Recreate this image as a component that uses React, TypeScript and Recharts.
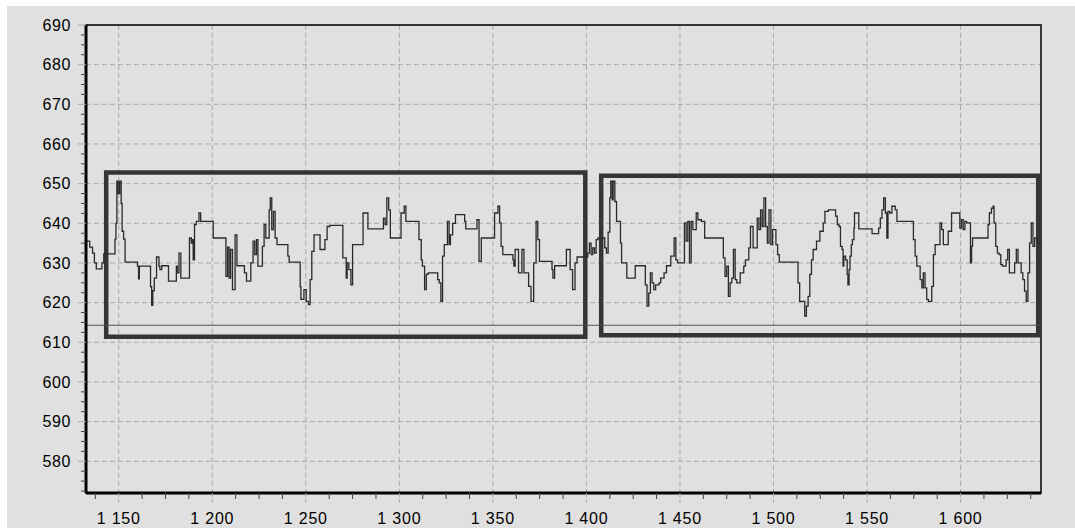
import React from 'react';
import { LineChart, Line, XAxis, YAxis, CartesianGrid, ReferenceArea, ReferenceLine } from 'recharts';

// axis ranges and ticks
const xDomain: [number, number] = [1132.5, 1643];
const yDomain: [number, number] = [572, 690];
const xMajorTicks = [1150, 1200, 1250, 1300, 1350, 1400, 1450, 1500, 1550, 1600];
const yMajorTicks = [580, 590, 600, 610, 620, 630, 640, 650, 660, 670, 680, 690];
const xMinorStep = 12.5;
const yMinorStep = 2.5;

// level line and the two marked windows
const baseline = 614.3;
const windows = [
  { x1: 1143.3, x2: 1399.4, y1: 611.4, y2: 652.8 },
  { x1: 1407.9, x2: 1641.5, y1: 611.8, y2: 652 },
];

// signal as [x, value] change points
const traceA: [number, number][] = [
  [1132.5, 635.5], [1134.5, 634], [1136, 632.5], [1137, 630], [1138, 628.5], [1141, 630],
  [1142, 632.3], [1148, 636], [1148.5, 640], [1149, 650.6], [1149.7, 647.5], [1150.5, 650.6],
  [1151.3, 645], [1151.8, 638], [1152.6, 636], [1153.4, 630.2], [1160, 629.2], [1160.6, 626],
  [1161, 629.2], [1167, 624], [1167.6, 619.3], [1168.2, 623], [1169, 626.2], [1170.2, 631.5],
  [1171.5, 629.2], [1172, 628.3], [1173, 629.3], [1176.6, 625.4], [1180.8, 629.2], [1181.3, 627.5],
  [1182.2, 632.5], [1183.2, 626.2], [1187.8, 636.3], [1188.8, 635], [1189.4, 635.9], [1189.8, 630.8],
  [1190.5, 639.7], [1191.5, 640.5], [1192.9, 642.6], [1193.8, 640.5], [1200.5, 636.3], [1207.3, 626.6],
  [1208.2, 634], [1209, 626.2], [1209.8, 633.4], [1210.8, 623.3], [1212.2, 637.1], [1213.2, 629.3],
  [1217.2, 627.5], [1218.3, 625.4], [1220.6, 630], [1221.8, 635.5], [1222.7, 632.1], [1223.6, 635.9],
  [1224.4, 629.2], [1226.8, 634.2], [1227.7, 639.7], [1228.6, 636.3], [1230.4, 643.4], [1231, 646.4],
  [1231.8, 638.4], [1232.7, 643], [1233.6, 636.3], [1234.6, 634.6], [1240.4, 631.7], [1241.1, 630.2],
  [1247, 624], [1247.4, 620.8], [1249, 623.3], [1250.2, 620.3], [1251.4, 619.5], [1252.3, 625.8],
  [1253.2, 632.9], [1254.4, 637.1], [1257.6, 633.4], [1260.2, 635.9], [1261.4, 639.2], [1262.8, 639.5],
];

const traceB: [number, number][] = [
  [1269.8, 631.3], [1271.6, 626.2], [1272.1, 630], [1273, 628.3], [1274.1, 624.5], [1275, 634.6],
  [1280.6, 642.6], [1283.2, 638.6], [1291.5, 641.3], [1292.4, 639.7], [1293.3, 646.4], [1294.3, 643.4],
  [1295.2, 636.3], [1300.9, 642.6], [1302.6, 644.3], [1303.5, 640.5], [1310.5, 635.9], [1311.7, 630.8],
  [1312.3, 629.2], [1313.5, 623.3], [1314.4, 627.1], [1315.4, 627.5], [1320.5, 625.8], [1321.3, 625],
  [1322.2, 620.3], [1323.1, 631.7], [1324, 634.6], [1325.7, 640.5], [1326.6, 634.6], [1327.3, 637.1],
  [1328.5, 640], [1330, 642.2], [1334.9, 640.5], [1335.5, 638.6], [1341.5, 640.9], [1342.6, 630.4],
  [1343.8, 636.3], [1350.9, 642.6], [1352.7, 644.3], [1353.6, 640.1], [1354.4, 634.2], [1355.3, 632.1],
  [1360.7, 630.8], [1361.2, 629.2], [1361.9, 633.4], [1363.7, 627.5], [1365.5, 633.4], [1366.6, 627.5],
  [1369.1, 624.1], [1370.4, 620.3], [1371.8, 630], [1373.1, 640.5], [1374, 635.9], [1374.9, 630.4],
  [1381.6, 628.3], [1382.1, 626.2], [1383, 629.3], [1389.3, 633.4], [1391.3, 628.3], [1392.6, 623.3],
  [1393.9, 630], [1395, 631.5],
];

const traceC: [number, number][] = [
  [1400.7, 632.5], [1401.6, 635], [1402.5, 632.1], [1403.4, 633.8], [1404.3, 632.5], [1405.2, 635.9],
  [1406.2, 636.3], [1409.8, 633.8], [1410.7, 632.5], [1411.6, 637.8], [1412.5, 646.4], [1413, 650.6],
  [1413.8, 645.9], [1414.3, 650.6], [1415.2, 645.5], [1416.1, 640.5], [1418.2, 635], [1418.8, 630],
  [1421.6, 626.2], [1426.1, 629.3], [1431.5, 624.5], [1432.4, 619.1], [1433.3, 622.4], [1434.2, 627.5],
  [1435.1, 625], [1436, 623.3], [1437, 624.5], [1438.8, 625], [1439.7, 626.2], [1441.5, 627.5],
  [1442.8, 629.3], [1445.1, 631.7], [1446.9, 636.3], [1447.8, 630.8], [1448.7, 630], [1452.4, 640.1],
  [1453.3, 635.5], [1454.2, 640.5], [1455.1, 630], [1456, 640.5], [1456.9, 638.4], [1458.7, 642.6],
  [1459.6, 640.9], [1461.4, 640.5], [1463.2, 636.3], [1473.2, 631.3], [1474.1, 626.6], [1475, 629.2],
  [1475.9, 621.6], [1476.8, 625], [1477.7, 626.2], [1478.6, 633.4], [1479.5, 625.8], [1480.4, 625],
  [1482.2, 627.5], [1484.1, 629.2], [1485, 630.8], [1486.8, 633.8], [1487.7, 639.2], [1489.1, 633.8],
  [1491.3, 641.3], [1492.2, 638.4], [1493.1, 643.4], [1494, 639.2], [1494.9, 646.4], [1495.8, 639.2],
  [1496.7, 635], [1497.6, 643.4], [1498.6, 634.6], [1499.5, 638.4], [1501.3, 634.6], [1502.2, 632.1],
  [1503.1, 630.2], [1513.1, 625], [1514, 620.3], [1516.7, 616.6], [1517.6, 619.1], [1518.5, 621.6],
  [1519.4, 627.1], [1520.3, 630.8], [1521.2, 633.4], [1523, 635.5], [1524.8, 638], [1526.6, 640.1],
  [1527.5, 643], [1529.3, 643.4],
];

const traceD: [number, number][] = [
  [1533.2, 641.8], [1534.1, 639.7], [1535, 639.2], [1535.8, 634.2], [1536.7, 633.4], [1537.2, 629.2],
  [1537.6, 631.7], [1538.5, 630.8], [1539.4, 627.1], [1539.8, 624.5], [1540.4, 628.3], [1540.9, 631.7],
  [1541.6, 634.6], [1542.2, 635.9], [1543, 638.8], [1543.3, 642.6], [1545.6, 638.6], [1552.7, 637.4],
  [1556.2, 638.8], [1557.1, 641.3], [1558, 643.4], [1558.9, 646.4], [1559.8, 642.6], [1560.6, 636.3],
  [1561.2, 643], [1562.1, 642.6], [1563.3, 644.3], [1565.1, 643.4], [1566, 640.5], [1574.8, 635.9],
  [1575.7, 631.7], [1576.6, 629.2], [1578.4, 625.8], [1579.3, 623.7], [1580.1, 627.5], [1581, 623.7],
  [1581.9, 620.8], [1582.8, 620.3], [1584.6, 624.1], [1585.5, 632.1], [1586.4, 634.6], [1589, 640.1],
  [1589.9, 638.4], [1590.8, 634.6], [1593.4, 638], [1595.2, 642.6], [1599.6, 638.8], [1600.5, 640.9],
  [1601.4, 638.4], [1602.3, 640.5], [1603.2, 640.1], [1605.3, 630], [1605.9, 634.2], [1606.4, 636.3],
  [1614.7, 639.7], [1615.4, 642.6], [1616.5, 643.8], [1617.4, 644.3], [1617.9, 640.1], [1618.8, 634.2],
  [1619.7, 632.5], [1620.6, 632.1], [1621.5, 629.6], [1622.4, 629.2], [1624.3, 630.8], [1625.2, 633.4],
  [1626.1, 627.5], [1628.9, 630], [1629.8, 633.4], [1630.7, 630], [1632.4, 627.5], [1633.3, 625.8],
  [1634.2, 622.9], [1635.1, 620.3], [1636, 627.5], [1636.9, 635], [1637.8, 640.1], [1638.7, 634.2],
  [1639.6, 636.3], [1641, 635], [1643, 635],
];

const data = [...traceA, ...traceB, ...traceC, ...traceD].map(([x, v]) => ({ x, v }));

const steps = (from: number, to: number, step: number) => {
  const out: number[] = [];
  for (let t = from; t <= to + 1e-9; t += step) out.push(Math.round(t * 10) / 10);
  return out;
};
const xTicks = steps(1137.5, 1637.5, xMinorStep);
const yTicks = steps(572.5, 690, yMinorStep);

const FONT = '"Liberation Sans", Arial, sans-serif';
const GRID = '#a9a9a9';
const TICK_SIZE = 8;
const TICK_MARGIN = 7;
const X_TICK_SIZE = 10;
const X_TICK_MARGIN = 10;

const fmtX = (v: number) => `${Math.floor(v / 1000)} ${String(v % 1000).padStart(3, '0')}`;

const YTick = (props: any) => {
  const { x, y, payload } = props;
  const v = payload.value;
  const axisX = x + TICK_SIZE + TICK_MARGIN;
  const major = yMajorTicks.includes(v);
  return (
    <g>
      {major ? (
        <line x1={axisX - 8} x2={axisX} y1={y} y2={y} stroke={GRID} strokeWidth={1} />
      ) : (
        <line x1={axisX - 5} x2={axisX} y1={y} y2={y} stroke="#444" strokeWidth={1} />
      )}
      {major && (
        <text x={x} y={y} dy="0.355em" textAnchor="end" fontFamily={FONT} fontSize={16} letterSpacing={0.6} fill="#000">
          {v}
        </text>
      )}
    </g>
  );
};

const XTick = (props: any) => {
  const { x, y, payload } = props;
  const v = payload.value;
  const axisY = y - X_TICK_SIZE - X_TICK_MARGIN;
  const major = xMajorTicks.includes(v);
  return (
    <g>
      {major ? (
        <line x1={x} x2={x} y1={axisY} y2={axisY + 10} stroke={GRID} strokeWidth={1} strokeDasharray="4 2" />
      ) : (
        <line x1={x} x2={x} y1={axisY} y2={axisY + 6} stroke="#444" strokeWidth={1} />
      )}
      {major && (
        <text x={x} y={y} dy="0.71em" textAnchor="middle" fontFamily={FONT} fontSize={16} letterSpacing={0.8} fill="#000">
          {fmtX(v)}
        </text>
      )}
    </g>
  );
};

export default function App() {
  return (
    <div style={{ position: 'absolute', left: 7, top: 6, width: 1068, height: 522, background: '#e0e0e0' }}>
      <LineChart width={1068} height={522} data={data} margin={{ top: 19, right: 34, left: 0, bottom: 0 }}>
        <CartesianGrid
          stroke={GRID}
          strokeDasharray="5 3"
          horizontalValues={yMajorTicks}
          verticalValues={xMajorTicks}
        />
        <XAxis
          dataKey="x"
          type="number"
          domain={xDomain}
          allowDataOverflow
          ticks={xTicks}
          interval={0}
          height={35}
          tickSize={X_TICK_SIZE}
          tickMargin={X_TICK_MARGIN}
          tickLine={false}
          tick={<XTick />}
          axisLine={{ stroke: '#000', strokeWidth: 3 }}
        />
        <YAxis
          type="number"
          domain={yDomain}
          allowDataOverflow
          ticks={yTicks}
          interval={0}
          width={79}
          tickSize={TICK_SIZE}
          tickMargin={TICK_MARGIN}
          tickLine={false}
          tick={<YTick />}
          axisLine={{ stroke: '#000', strokeWidth: 3 }}
        />
        <ReferenceArea
          x1={xDomain[0]}
          x2={xDomain[1]}
          y1={yDomain[0]}
          y2={yDomain[1]}
          fill="none"
          stroke="#000"
          strokeWidth={1.5}
        />
        <ReferenceLine y={baseline} stroke="#505050" strokeWidth={1.2} />
        <Line
          type="stepAfter"
          dataKey="v"
          stroke="#2a2a2a"
          strokeWidth={1.3}
          dot={false}
          activeDot={false}
          isAnimationActive={false}
        />
        {windows.map((w, i) => (
          <ReferenceArea
            key={i}
            x1={w.x1}
            x2={w.x2}
            y1={w.y1}
            y2={w.y2}
            fill="none"
            stroke="#353535"
            strokeWidth={4.5}
          />
        ))}
      </LineChart>
    </div>
  );
}
